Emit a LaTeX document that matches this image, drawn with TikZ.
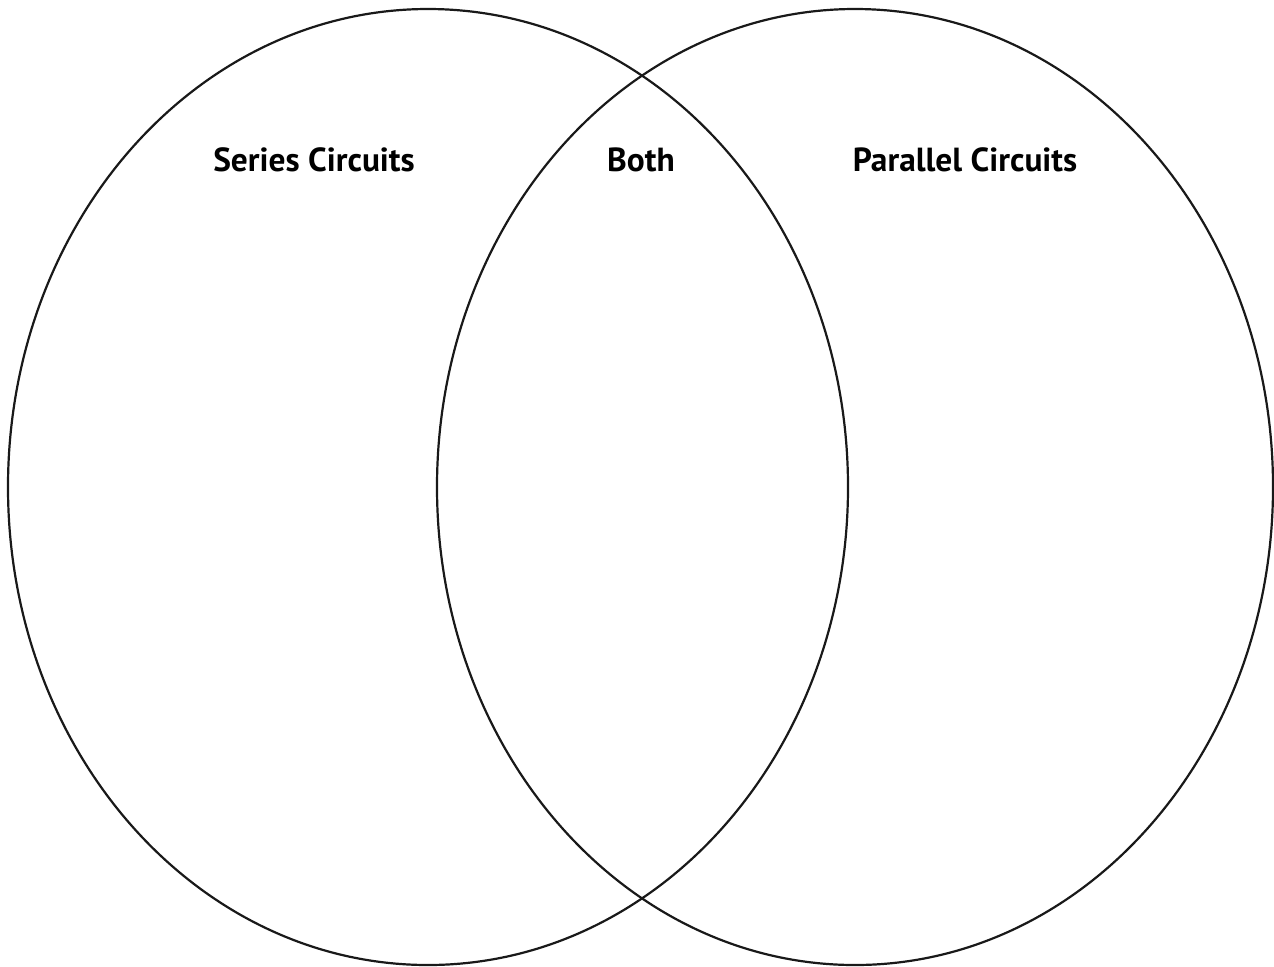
\documentclass[tikz,border=0pt]{standalone}
\usepackage{fontspec}
\setmainfont{PT Sans}
\usepackage{tikz}
\usetikzlibrary{positioning}

\begin{document}
\begin{tikzpicture}[x=0.5pt, y=-0.5pt, line width=1.1pt,
    venntitle/.style={font=\fontsize{16.7}{20}\selectfont\bfseries, inner sep=0pt}]
    \useasboundingbox (0,0) rectangle (1274,966);
    \draw[black!90] (428,487) ellipse [x radius=420pt*0.5, y radius=478pt*0.5];
    \draw[black!90] (855,487) ellipse [x radius=418pt*0.5, y radius=478pt*0.5];
    \node[venntitle] (series) at (314,160) {Series Circuits};
    \node[venntitle] (both) at (641,160) {Both};
    \node[venntitle] (parallel) at (965,160) {Parallel Circuits};
\end{tikzpicture}
\end{document}
